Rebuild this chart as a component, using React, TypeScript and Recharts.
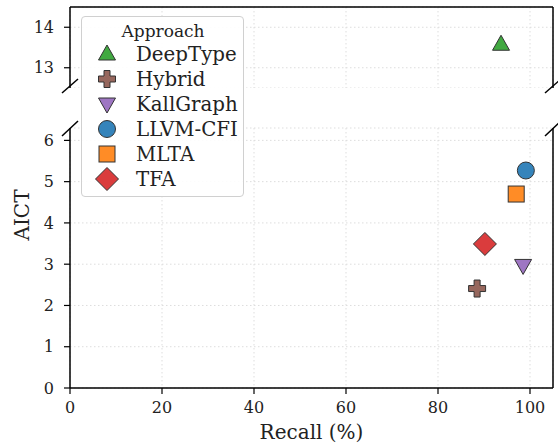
import React from "react"
import { ScatterChart, Scatter, XAxis, YAxis, CartesianGrid, ReferenceLine } from "recharts"

const approaches = ["DeepType", "Hybrid", "KallGraph", "LLVM-CFI", "MLTA", "TFA"]
const recall = [93.7, 88.5, 98.5, 99.1, 97.0, 90.2]
const aict = [13.58, 2.41, 2.97, 5.27, 4.70, 3.49]
const colors = ["#2ca02c", "#8c564b", "#9467bd", "#1f77b4", "#ff7f0e", "#d62728"]
const markers = ["triangle", "plus", "triangleDown", "circle", "square", "diamond"]

const xTicks = [0, 20, 40, 60, 80, 100]
const topTicks = [13, 14]
const bottomTicks = [0, 1, 2, 3, 4, 5, 6]

const FONT = "DejaVu Serif"
const W = 558
const H = 447

function Marker({ kind, cx, cy, fill }: { kind: string; cx: number; cy: number; fill: string }) {
  const common = { fill, fillOpacity: 0.9, stroke: "#333", strokeWidth: 1 }
  if (kind === "circle") return <circle cx={cx} cy={cy} r={8.5} {...common} />
  if (kind === "square") return <rect x={cx - 8} y={cy - 8} width={16} height={16} {...common} />
  if (kind === "diamond")
    return <polygon points={`${cx},${cy - 11.5} ${cx + 11.5},${cy} ${cx},${cy + 11.5} ${cx - 11.5},${cy}`} {...common} />
  if (kind === "triangle")
    return <polygon points={`${cx},${cy - 9} ${cx + 8.5},${cy + 6} ${cx - 8.5},${cy + 6}`} {...common} />
  if (kind === "triangleDown")
    return <polygon points={`${cx - 8.5},${cy - 6} ${cx + 8.5},${cy - 6} ${cx},${cy + 9}`} {...common} />
  // plus
  const a = 8.5
  const t = 3
  const d = `M${cx - t},${cy - a} H${cx + t} V${cy - t} H${cx + a} V${cy + t} H${cx + t} V${cy + a} H${cx - t} V${cy + t} H${cx - a} V${cy - t} H${cx - t} Z`
  return <path d={d} {...common} />
}

const series = approaches.map((name, i) => ({
  name,
  color: colors[i],
  marker: markers[i],
  data: [{ x: recall[i], y: aict[i] }],
}))

const tickStyle = { fontFamily: FONT, fontSize: 16, fill: "#222" }
const gridProps = { stroke: "#ddd", strokeDasharray: "1.5 2.5", strokeWidth: 1 }
const axisLine = { stroke: "#000", strokeWidth: 1.5 }
const tickLine = { stroke: "#000", strokeWidth: 1.2 }

function renderSeries(filter: (y: number) => boolean) {
  return series
    .filter((s) => filter(s.data[0].y))
    .map((s) => (
      <Scatter
        key={s.name}
        name={s.name}
        data={s.data}
        isAnimationActive={false}
        shape={(p: any) => <Marker kind={s.marker} cx={p.cx} cy={p.cy} fill={s.color} />}
      />
    ))
}

export default function App() {
  return (
    <div style={{ position: "absolute", left: 0, top: 0, width: W, height: H, background: "#fff" }}>
      <div style={{ position: "absolute", left: 0, top: 0 }}>
        <ScatterChart width={W} height={88} margin={{ top: 7, right: 5, bottom: 0, left: 10 }}>
          <CartesianGrid {...gridProps} />
          <XAxis type="number" dataKey="x" domain={[0, 105]} ticks={xTicks} hide />
          <YAxis
            type="number"
            dataKey="y"
            domain={[12.5, 14.5]}
            ticks={topTicks}
            width={60}
            tick={tickStyle}
            axisLine={axisLine}
            tickLine={tickLine}
            tickSize={6}
            tickMargin={10}
          />
          <ReferenceLine y={14.5} stroke="#000" strokeWidth={1.5} />
          <ReferenceLine x={105} stroke="#000" strokeWidth={1.5} />
          {renderSeries((y) => y > 12.5)}
        </ScatterChart>
      </div>
      <div style={{ position: "absolute", left: 0, top: 0 }}>
        <ScatterChart width={W} height={H} margin={{ top: 128, right: 5, bottom: 0, left: 10 }}>
          <CartesianGrid {...gridProps} />
          <XAxis
            type="number"
            dataKey="x"
            domain={[0, 105]}
            ticks={xTicks}
            height={59}
            tick={tickStyle}
            axisLine={axisLine}
            tickLine={tickLine}
            tickSize={6}
            tickMargin={8}
            label={{ value: "Recall (%)", position: "insideBottom", offset: 8, style: { fontFamily: FONT, fontSize: 20, fill: "#222" } }}
          />
          <YAxis
            type="number"
            dataKey="y"
            domain={[0, 6.3]}
            ticks={bottomTicks}
            width={60}
            tick={tickStyle}
            axisLine={axisLine}
            tickLine={tickLine}
            tickSize={6}
            tickMargin={10}
          />
          <ReferenceLine x={105} stroke="#000" strokeWidth={1.5} />
          {renderSeries((y) => y < 6.3)}
        </ScatterChart>
      </div>
      <svg width={W} height={H} style={{ position: "absolute", left: 0, top: 0, pointerEvents: "none" }}>
        <g stroke="#000" strokeWidth={1.5}>
          <line x1={62} y1={93} x2={78} y2={79} />
          <line x1={62} y1={136} x2={78} y2={121} />
          <line x1={545} y1={93} x2={561} y2={79} />
          <line x1={545} y1={136} x2={561} y2={121} />
        </g>
        <text
          x={22}
          y={215}
          transform="rotate(-90 22 215)"
          textAnchor="middle"
          dominantBaseline="central"
          fontFamily={FONT}
          fontSize={20}
          fill="#222"
        >
          AICT
        </text>
      </svg>
      <div
        style={{
          position: "absolute",
          left: 81,
          top: 16,
          width: 163,
          height: 181,
          boxSizing: "border-box",
          border: "1px solid #d0d0d0",
          borderRadius: 4,
          background: "rgba(255,255,255,0.9)",
        }}
      >
        <svg width={163} height={181}>
          <text x={81} y={14} textAnchor="middle" dominantBaseline="central" fontFamily={FONT} fontSize={17} fill="#222">
            Approach
          </text>
          {series.map((s, i) => (
            <g key={s.name}>
              <Marker kind={s.marker} cx={25} cy={37 + i * 25} fill={s.color} />
              <text x={54} y={37 + i * 25} dominantBaseline="central" fontFamily={FONT} fontSize={19.8} fill="#222">
                {s.name}
              </text>
            </g>
          ))}
        </svg>
      </div>
    </div>
  )
}
